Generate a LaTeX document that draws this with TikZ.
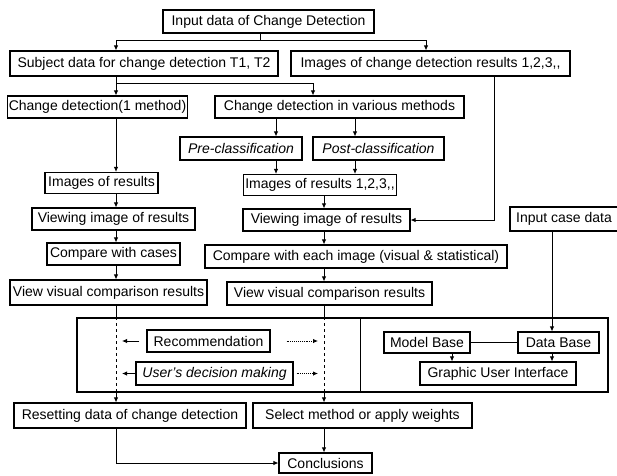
\documentclass[tikz,border=0pt]{standalone}
\usepackage{fontspec}
\setmainfont{Liberation Sans}
\usepackage{xcolor}
\usepackage{tikz}
\usetikzlibrary{arrows.meta}
\definecolor{ink}{HTML}{000000}
\tikzset{
  box/.style={draw=ink, line width=1.1pt, inner sep=1.5pt, font=\fontsize{14}{15}\selectfont},
  ibox/.style={box, font=\fontsize{14}{15}\selectfont\itshape},
  panelbox/.style={draw=ink, line width=1.1pt, inner sep=0pt},
  link/.style={draw=ink, line width=0.9pt},
  arr/.style={link, -{Latex[length=5pt,width=4.5pt]}},
  darr/.style={arr, densely dotted},
  every node/.style={text=ink}
}

\begin{document}
\begin{tikzpicture}[x=1pt,y=-1pt]
  \useasboundingbox (0,0) rectangle (617,475);

  % columns for the vertical connectors
  \coordinate (lc) at (116,0);
  \coordinate (rc) at (324,0);
  \coordinate (ic) at (426,0);
  \coordinate (mc) at (313,0);
  \coordinate (pc) at (276,0);
  \coordinate (qc) at (355,0);
  \coordinate (sc) at (494,0);
  \coordinate (dc) at (552,0);
  \coordinate (mbc) at (452,0);
  \coordinate (split1) at (260,40);
  \coordinate (split2) at (116,83);

  \node[box, minimum width=211pt, minimum height=23pt] (input) at (268.5,21.5) {Input data of Change Detection};
  \node[box, minimum width=268pt, minimum height=25pt] (subj) at (144,63.5) {Subject data for change detection T1, T2};
  \node[box, minimum width=279pt, minimum height=25pt] (imgs) at (430.5,63.5) {Images of change detection results 1,2,3,{},};
  \node[box, minimum width=175pt, minimum height=22pt] (cd1) at (97.5,107) {Change detection(1 method)};
  \node[box, minimum width=249pt, minimum height=22pt] (cdv) at (339.5,107) {Change detection in various methods};
  \node[ibox, minimum width=122pt, minimum height=23pt] (pre) at (241,148.5) {Pre-classification};
  \node[ibox, minimum width=131pt, minimum height=23pt] (post) at (378.5,148.5) {Post-classification};
  \node[box, minimum width=113pt, minimum height=21pt] (res1) at (101.5,183) {Images of results};
  \node[box, minimum width=150pt, minimum height=21pt] (res) at (320,185) {Images of results 1,2,3,{},};
  \node[box, minimum width=163pt, minimum height=22pt] (view1) at (113.5,219) {Viewing image of results};
  \node[box, minimum width=167pt, minimum height=22pt] (view2) at (326.5,220) {Viewing image of results};
  \node[box, minimum width=108pt, minimum height=24pt] (casein) at (564,219) {Input case data};
  \node[box, minimum width=133pt, minimum height=22pt] (cmp1) at (113.5,254) {Compare with cases};
  \node[box, minimum width=302pt, minimum height=23pt] (cmp2) at (356,256.5) {Compare with each image (visual \& statistical)};
  \node[box, minimum width=197pt, minimum height=25pt] (vis1) at (108.5,292.5) {View visual comparison results};
  \node[box, minimum width=205pt, minimum height=23pt] (vis2) at (329.5,293.5) {View visual comparison results};

  % decision panel
  \node[panelbox, minimum width=531pt, minimum height=74pt] (panel) at (342.5,355) {};
  \draw[link] (panel.north -| 360,0) -- (panel.south -| 360,0);
  \node[box, minimum width=123pt, minimum height=22pt] (rec) at (208.5,341) {Recommendation};
  \node[ibox, minimum width=157pt, minimum height=23pt] (dec) at (214.5,373.5) {User's decision making};
  \node[box, minimum width=86pt, minimum height=21pt] (mb) at (427,342.5) {Model Base};
  \node[box, minimum width=81pt, minimum height=21pt] (db) at (558.5,342.5) {Data Base};
  \node[box, minimum width=156pt, minimum height=23pt] (gui) at (498,373.5) {Graphic User Interface};

  \node[box, minimum width=232pt, minimum height=25pt] (reset) at (130,415.5) {Resetting data of change detection};
  \node[box, minimum width=219pt, minimum height=25pt] (sel) at (362.5,415.5) {Select method or apply weights};
  \node[box, minimum width=93pt, minimum height=20pt] (concl) at (325.5,463) {Conclusions};

  % top splits
  \draw[link] (input.south -| split1) -- (split1);
  \draw[arr] (split1) -| (subj.north -| lc);
  \draw[arr] (split1) -| (imgs.north -| ic);
  \draw[link] (subj.south -| lc) -- (split2);
  \draw[arr] (split2) -- (cd1.north -| lc);
  \draw[arr] (split2) -| (cdv.north -| mc);

  % left column
  \draw[arr] (cd1.south -| lc) -- (res1.north -| lc);
  \draw[arr] (res1.south -| lc) -- (view1.north -| lc);
  \draw[arr] (view1.south -| lc) -- (cmp1.north -| lc);
  \draw[arr] (cmp1.south -| lc) -- (vis1.north -| lc);

  % middle column
  \draw[arr] (cdv.south -| pc) -- (pre.north -| pc);
  \draw[arr] (cdv.south -| qc) -- (post.north -| qc);
  \draw[arr] (pre.south -| pc) -- (res.north -| pc);
  \draw[arr] (post.south -| qc) -- (res.north -| qc);
  \draw[arr] (res.south -| rc) -- (view2.north -| rc);
  \draw[arr] (view2.south -| rc) -- (cmp2.north -| rc);
  \draw[arr] (cmp2.south -| rc) -- (vis2.north -| rc);
  \draw[arr] (imgs.south -| sc) |- (view2.east);

  % through the panel
  \draw[link] (vis1.south -| lc) -- (panel.north -| lc);
  \draw[link, dashed] (panel.north -| lc) -- (panel.south -| lc);
  \draw[arr] (panel.south -| lc) -- (reset.north -| lc);
  \draw[link] (vis2.south -| rc) -- (panel.north -| rc);
  \draw[link, dashed] (panel.north -| rc) -- (panel.south -| rc);
  \draw[arr] (panel.south -| rc) -- (sel.north -| rc);

  \draw[arr] ([xshift=-7pt]rec.west) -- (rec.west -| 122,0);
  \draw[darr] ([xshift=16pt]rec.east) -- (rec.east -| 318,0);
  \draw[arr] (dec.west) -- (dec.west -| 122,0);
  \draw[darr] ([xshift=3pt]dec.east) -- (dec.east -| 318,0);

  % case base side
  \draw[arr] (casein.south -| dc) -- (db.north -| dc);
  \draw[link] (mb.east) -- (db.west);
  \draw[arr] (mb.south -| mbc) -- (gui.north -| mbc);
  \draw[arr] (db.south -| dc) -- (gui.north -| dc);

  % to conclusions
  \draw[arr] (reset.south -| lc) |- (concl.west);
  \draw[arr] (sel.south -| rc) -- (concl.north -| rc);
\end{tikzpicture}
\end{document}
